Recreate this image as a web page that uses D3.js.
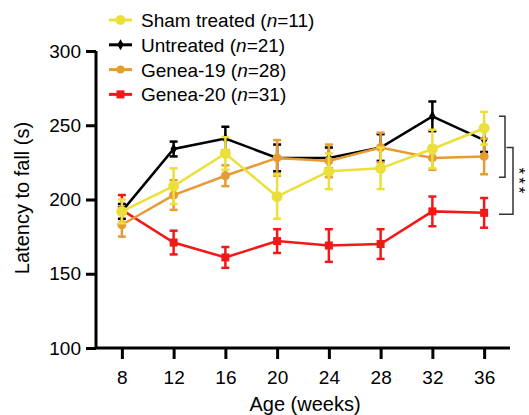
<!DOCTYPE html>
<html>
<head>
<meta charset="utf-8">
<script src="https://cdn.jsdelivr.net/npm/d3@7"></script>
<style>
  body { margin: 0; background: #fff; }
  svg text { font-family: "Liberation Sans", Arial, Helvetica, sans-serif; fill: #000; }
</style>
</head>
<body>
<div id="canvas"></div>
<script>
// data
var weeks = [8, 12, 16, 20, 24, 28, 32, 36];
var groupNames = ['Sham treated', 'Untreated', 'Genea-19', 'Genea-20'];
var groupN = [11, 21, 28, 31];
var shamMean = [192, 209, 231, 202, 219, 221, 234, 248];
var shamErr = [8, 12, 11, 15, 12, 14, 13, 11];
var untreatedMean = [192, 234, 241, 228, 228, 235, 256, 240];
var untreatedErr = [5, 5, 8, 9, 7, 9, 10, 8];
var genea19Mean = [183, 203, 216, 228, 226, 235, 228, 229];
var genea19Err = [8, 10, 7, 12, 11, 10, 8, 12];
var genea20Mean = [193, 171, 161, 172, 169, 170, 192, 191];
var genea20Err = [10, 8, 7, 8, 11, 10, 10, 10];
var yTicks = [100, 150, 200, 250, 300];
var bracketRanges = [[215, 256], [190, 235]];
var sigLabel = '***';

var W = 529, H = 415;
var colors = ['#ebe03a', '#000000', '#e69c35', '#f21818'];
var shapes = ['circle', 'diamond', 'circle', 'square'];

var series = [
  {name: groupNames[0], n: groupN[0], mean: shamMean, err: shamErr, color: colors[0], shape: shapes[0]},
  {name: groupNames[1], n: groupN[1], mean: untreatedMean, err: untreatedErr, color: colors[1], shape: shapes[1]},
  {name: groupNames[2], n: groupN[2], mean: genea19Mean, err: genea19Err, color: colors[2], shape: shapes[2]},
  {name: groupNames[3], n: groupN[3], mean: genea20Mean, err: genea20Err, color: colors[3], shape: shapes[3]}
];

var svg = d3.select('#canvas').append('svg')
    .attr('width', W)
    .attr('height', H);

var x = d3.scaleLinear().domain([6, 38]).range([96, 510]);
var y = d3.scaleLinear().domain([100, 300]).range([348, 51]);

// axes
var axisX = d3.axisBottom(x).tickValues(weeks).tickSize(11).tickPadding(12);
var axisY = d3.axisLeft(y).tickValues(yTicks).tickSize(10).tickPadding(5);

var gx = svg.append('g').attr('transform', 'translate(0,' + y(100) + ')').call(axisX);
var gy = svg.append('g').attr('transform', 'translate(' + x(6) + ',0)').call(axisY);

[gx, gy].forEach(function(g){
  g.select('.domain').attr('stroke', '#000').attr('stroke-width', 3);
  g.selectAll('.tick line').attr('stroke', '#000').attr('stroke-width', 3);
  g.selectAll('.tick text').style('font-size', '19px').attr('fill', '#000');
});
gx.select('.domain').attr('d', 'M' + x(6) + ',0H' + x(38));
gy.select('.domain').attr('d', 'M0,' + y(300) + 'V' + y(100));

svg.append('text')
    .attr('x', 305).attr('y', 411)
    .attr('text-anchor', 'middle')
    .style('font-size', '20px')
    .text('Age (weeks)');

svg.append('text')
    .attr('transform', 'translate(29,' + 198 + ') rotate(-90)')
    .attr('text-anchor', 'middle')
    .style('font-size', '20px')
    .text('Latency to fall (s)');

// series drawn red first so yellow ends on top
var drawOrder = [3, 1, 2, 0];

function marker(g, shape, color, size){
  if (shape === 'circle') {
    g.append('circle').attr('r', size).attr('fill', color);
  } else if (shape === 'diamond') {
    g.append('path').attr('d', d3.symbol(d3.symbolDiamond, size * size * 2.2)()).attr('fill', color);
  } else {
    g.append('rect').attr('x', -size).attr('y', -size)
        .attr('width', size * 2).attr('height', size * 2).attr('fill', color);
  }
}

var line = d3.line()
    .x(function(d){ return x(d.w); })
    .y(function(d){ return y(d.m); });

drawOrder.forEach(function(i){
  var s = series[i];
  var pts = weeks.map(function(w, k){ return {w: w, m: s.mean[k], e: s.err[k]}; });
  var g = svg.append('g');

  // error bars
  pts.forEach(function(p){
    var cx = x(p.w);
    var eb = g.append('g').attr('stroke', s.color).attr('stroke-width', 2.5);
    eb.append('line').attr('x1', cx).attr('x2', cx).attr('y1', y(p.m - p.e)).attr('y2', y(p.m + p.e));
    eb.append('line').attr('x1', cx - 4).attr('x2', cx + 4).attr('y1', y(p.m - p.e)).attr('y2', y(p.m - p.e));
    eb.append('line').attr('x1', cx - 4).attr('x2', cx + 4).attr('y1', y(p.m + p.e)).attr('y2', y(p.m + p.e));
  });

  g.append('path')
      .datum(pts)
      .attr('d', line)
      .attr('fill', 'none')
      .attr('stroke', s.color)
      .attr('stroke-width', 2.5);

  pts.forEach(function(p){
    var mg = g.append('g').attr('transform', 'translate(' + x(p.w) + ',' + y(p.m) + ')');
    var sz = s.shape === 'square' ? 4 : (s.name === 'Genea-19' ? 4.5 : (s.shape === 'diamond' ? 4 : 5.5));
    marker(mg, s.shape, s.color, sz);
  });
});

// legend
var legend = svg.append('g');
series.forEach(function(s, i){
  var ly = 20 + i * 24.8;
  var lg = legend.append('g').attr('transform', 'translate(0,' + ly + ')');
  lg.append('line').attr('x1', 109).attr('x2', 132).attr('y1', 0).attr('y2', 0)
      .attr('stroke', s.color).attr('stroke-width', 3);
  var mg = lg.append('g').attr('transform', 'translate(120.5,0)');
  var sz = s.shape === 'square' ? 4 : (s.name === 'Genea-19' ? 4 : (s.shape === 'diamond' ? 4 : 5));
  marker(mg, s.shape, s.color, sz);
  var t = lg.append('text').attr('x', 141).attr('y', 7).style('font-size', '19px');
  t.append('tspan').text(s.name + ' (');
  t.append('tspan').style('font-style', 'italic').text('n');
  t.append('tspan').text('=' + s.n + ')');
});

// significance brackets
var br = svg.append('g').attr('fill', 'none').attr('stroke', '#333').attr('stroke-width', 1.5);
var b1 = bracketRanges[0], b2 = bracketRanges[1];
br.append('path').attr('d',
  'M499,' + y(b1[1]) + 'H505V' + y(b1[0]) + 'H499');
br.append('path').attr('d',
  'M506.5,' + y(b2[1]) + 'H513V' + y(b2[0]) + 'H499');

// asterisks, turned to run down the right edge
svg.append('text')
    .attr('transform', 'translate(513,182) rotate(90)')
    .attr('text-anchor', 'middle')
    .style('font-size', '17px')
    .style('letter-spacing', '3px')
    .text(sigLabel);
</script>
</body>
</html>
